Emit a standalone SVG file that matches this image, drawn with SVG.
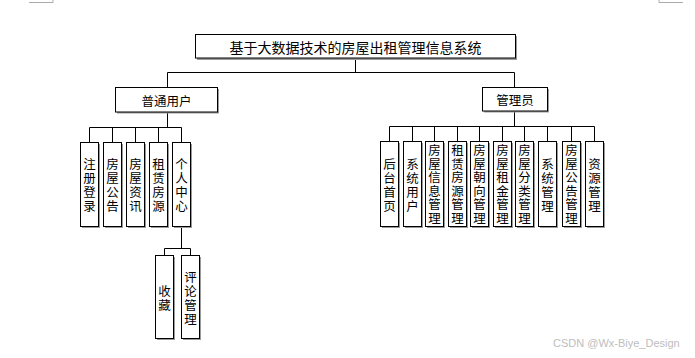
<svg xmlns="http://www.w3.org/2000/svg" width="695" height="358" viewBox="0 0 695 358">
<style>
.box{fill:#fff;stroke:#000;stroke-width:1}
.sh{fill:#9a9a9a}
.t{font-family:"Noto Sans CJK SC","Liberation Sans",sans-serif;font-size:12.5px;fill:#000;text-anchor:middle;dominant-baseline:central}
.tt{font-size:14px}
.v{font-family:"Noto Sans CJK SC","Liberation Sans",sans-serif;font-size:12.5px;fill:#000;text-anchor:middle;writing-mode:vertical-rl;glyph-orientation-vertical:0}
.v4{letter-spacing:1.5px}
.v6{letter-spacing:1px}
.c{fill:none;stroke:#000;stroke-width:1}
.mark{fill:none;stroke:#aaa;stroke-width:1}
.wm{font-family:"Liberation Sans",sans-serif;font-size:11px;fill:#bdbdbd}
</style>
<rect width="695" height="358" fill="#fff"/>
<path class="mark" d="M29 2.5H53V0M659 0V2.5H683"/>
<g id="connectors">
<path class="c" d="M355.5 58V72.5M167.5 72.5H514.5M167.5 72.5V87M514.5 72.5V87"/>
<path class="c" d="M167.5 112V127.5M89.5 127.5H181.5M89.5 127.5V142M112.5 127.5V142M135.5 127.5V142M158.5 127.5V142M181.5 127.5V142"/>
<path class="c" d="M181.5 226V248.5M164.5 248.5H190.5M164.5 248.5V255M190.5 248.5V255"/>
<path class="c" d="M514.5 111V126.5M389.5 126.5H594.5M389.5 126.5V141M412.5 126.5V141M434.5 126.5V141M457.5 126.5V141M479.5 126.5V141M502.5 126.5V141M524.5 126.5V141M547.5 126.5V141M571.5 126.5V141M594.5 126.5V141"/>
</g>
<g id="root">
<rect class="sh" x="197" y="36" width="320" height="24"/>
<rect class="box" x="195.5" y="34.5" width="320" height="23.5"/>
<text class="t tt" x="355.5" y="46.5">基于大数据技术的房屋出租管理信息系统</text>
</g>
<g id="user">
<rect class="sh" x="117" y="89" width="102" height="24.5"/>
<rect class="box" x="115.5" y="87.5" width="102" height="24.5"/>
<text class="t" x="166.5" y="100">普通用户</text>
</g>
<g id="admin">
<rect class="sh" x="484" y="89" width="65" height="23.5"/>
<rect class="box" x="482.5" y="87.5" width="65" height="23.5"/>
<text class="t" x="515" y="99.5">管理员</text>
</g>
<g id="u1"><rect class="sh" x="82" y="144" width="18" height="84"/><rect class="box" x="80.5" y="142.5" width="18" height="84"/>
<text class="v v4" x="89.5" y="185.5">注册登录</text></g>
<g id="u2"><rect class="sh" x="105" y="144" width="18" height="84"/><rect class="box" x="103.5" y="142.5" width="18" height="84"/>
<text class="v v4" x="112.5" y="185.5">房屋公告</text></g>
<g id="u3"><rect class="sh" x="128" y="144" width="18" height="84"/><rect class="box" x="126.5" y="142.5" width="18" height="84"/>
<text class="v v4" x="135.5" y="185.5">房屋资讯</text></g>
<g id="u4"><rect class="sh" x="151" y="144" width="18" height="84"/><rect class="box" x="149.5" y="142.5" width="18" height="84"/>
<text class="v v4" x="158.5" y="185.5">租赁房源</text></g>
<g id="u5"><rect class="sh" x="174" y="144" width="18" height="84"/><rect class="box" x="172.5" y="142.5" width="18" height="84"/>
<text class="v v4" x="181.5" y="185.5">个人中心</text></g>
<g id="s1"><rect class="sh" x="157" y="257" width="18" height="83"/><rect class="box" x="155.5" y="255.5" width="18" height="83"/>
<text class="v v4" x="164.5" y="298.5">收藏</text></g>
<g id="s2"><rect class="sh" x="183" y="257" width="18" height="83"/><rect class="box" x="181.5" y="255.5" width="18" height="83"/>
<text class="v v4" x="190.5" y="298.5">评论管理</text></g>
<g id="a1"><rect class="sh" x="382" y="143" width="18" height="85"/><rect class="box" x="380.5" y="141.5" width="18" height="85"/>
<text class="v v4" x="389.5" y="185.5">后台首页</text></g>
<g id="a2"><rect class="sh" x="405" y="143" width="18" height="85"/><rect class="box" x="403.5" y="141.5" width="18" height="85"/>
<text class="v v4" x="412.5" y="185.5">系统用户</text></g>
<g id="a3"><rect class="sh" x="427" y="143" width="18" height="85"/><rect class="box" x="425.5" y="141.5" width="18" height="85"/>
<text class="v v6" x="434.5" y="184.5">房屋信息管理</text></g>
<g id="a4"><rect class="sh" x="450" y="143" width="18" height="85"/><rect class="box" x="448.5" y="141.5" width="18" height="85"/>
<text class="v v6" x="457.5" y="184.5">租赁房源管理</text></g>
<g id="a5"><rect class="sh" x="472" y="143" width="18" height="85"/><rect class="box" x="470.5" y="141.5" width="18" height="85"/>
<text class="v v6" x="479.5" y="184.5">房屋朝向管理</text></g>
<g id="a6"><rect class="sh" x="495" y="143" width="18" height="85"/><rect class="box" x="493.5" y="141.5" width="18" height="85"/>
<text class="v v6" x="502.5" y="184.5">房屋租金管理</text></g>
<g id="a7"><rect class="sh" x="517" y="143" width="18" height="85"/><rect class="box" x="515.5" y="141.5" width="18" height="85"/>
<text class="v v6" x="524.5" y="184.5">房屋分类管理</text></g>
<g id="a8"><rect class="sh" x="540" y="143" width="18" height="85"/><rect class="box" x="538.5" y="141.5" width="18" height="85"/>
<text class="v v4" x="547.5" y="185.5">系统管理</text></g>
<g id="a9"><rect class="sh" x="564" y="143" width="18" height="85"/><rect class="box" x="562.5" y="141.5" width="18" height="85"/>
<text class="v v6" x="571.5" y="184.5">房屋公告管理</text></g>
<g id="a10"><rect class="sh" x="587" y="143" width="18" height="85"/><rect class="box" x="585.5" y="141.5" width="18" height="85"/>
<text class="v v4" x="594.5" y="185.5">资源管理</text></g>
<text class="wm" x="553" y="347">CSDN @Wx-Biye_Design</text>
</svg>
